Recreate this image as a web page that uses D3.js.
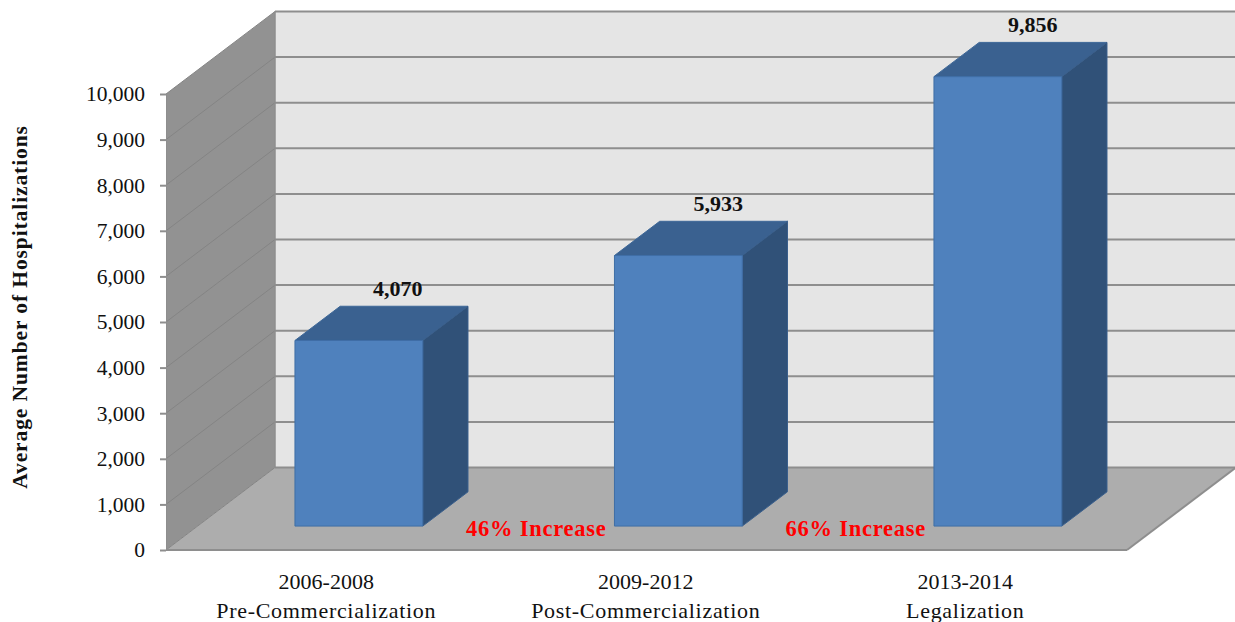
<!DOCTYPE html>
<html>

<head>
  <meta charset="utf-8">
  <title>Average number of hospitalizations</title>
  <style>
    body { margin: 0; background: #fff; }
    text { font-family: "Liberation Serif", serif; fill: #111; }
  </style>
</head>

<body>
  <svg width="1235" height="622"></svg>
  <script src="https://d3js.org/d3.v7.min.js"></script>
  <script>
    // data
    var periods = ["2006-2008", "2009-2012", "2013-2014"];
    var phases = ["Pre-Commercialization", "Post-Commercialization", "Legalization"];
    var hospitalizations = [4070, 5933, 9856];
    var yTicks = [0, 1000, 2000, 3000, 4000, 5000, 6000, 7000, 8000, 9000, 10000];
    var increases = ["46% Increase", "66% Increase"];

    var svg = d3.select("svg");

    var plotLeft = 166, plotRight = 1127;
    var x = d3.scaleBand().domain(periods).range([167.5, 1126]).paddingInner(0.6).paddingOuter(0.3);
    var y = d3.scaleLinear().domain([0, 10000]).range([550, 94]);

    // fake 3d: depth 0 = front edge of the floor, depth 1 = back wall
    var depthX = 109, depthY = -82.5;
    var barFront = 0.29, barBack = 0.705;
    // the value labels sit a little off centre in the original
    var labelNudge = [39, 40, 35];

    function px(v, depth) { return v + depthX * depth; }
    function py(v, depth) { return y(v) + depthY * depth; }
    function poly(points) {
      return points.map(function (p) { return p[0] + "," + p[1]; }).join(" ");
    }

    // back wall, clipped by the window on the right
    svg.append("polygon")
      .attr("points", poly([
        [px(plotLeft, 1), py(10000, 1)], [px(plotRight, 1), py(10000, 1)],
        [px(plotRight, 1), py(0, 1)], [px(plotLeft, 1), py(0, 1)]]))
      .attr("fill", "#e5e5e5");

    // side wall
    svg.append("polygon")
      .attr("points", poly([
        [plotLeft, py(10000, 0)], [px(plotLeft, 1), py(10000, 1)],
        [px(plotLeft, 1), py(0, 1)], [plotLeft, py(0, 0)]]))
      .attr("fill", "#929292");

    // floor
    svg.append("polygon")
      .attr("points", poly([
        [plotLeft, py(0, 0)], [px(plotLeft, 1), py(0, 1)],
        [px(plotRight, 1), py(0, 1)], [plotRight, py(0, 0)]]))
      .attr("fill", "#adadad");

    // gridlines
    svg.append("g").selectAll("line.back")
      .data(yTicks)
      .enter()
      .append("line")
      .attr("x1", px(plotLeft, 1))
      .attr("x2", px(plotRight, 1))
      .attr("y1", function (d) { return py(d, 1); })
      .attr("y2", function (d) { return py(d, 1); })
      .attr("stroke", "#8e8e8e")
      .attr("stroke-width", 2);

    svg.append("g").selectAll("line.side")
      .data(yTicks)
      .enter()
      .append("line")
      .attr("x1", plotLeft)
      .attr("x2", px(plotLeft, 1))
      .attr("y1", function (d) { return py(d, 0); })
      .attr("y2", function (d) { return py(d, 1); })
      .attr("stroke", "#848484")
      .attr("stroke-width", 1);

    svg.append("line")
      .attr("x1", px(plotLeft, 1)).attr("x2", px(plotLeft, 1))
      .attr("y1", py(10000, 1)).attr("y2", py(0, 1))
      .attr("stroke", "#8e8e8e").attr("stroke-width", 1.5);

    svg.append("line")
      .attr("x1", plotRight).attr("x2", px(plotRight, 1))
      .attr("y1", py(0, 0)).attr("y2", py(0, 1))
      .attr("stroke", "#8e8e8e").attr("stroke-width", 2);

    // axes
    var yAxis = svg.append("g")
      .attr("transform", "translate(" + plotLeft + ",0)")
      .call(d3.axisLeft(y).tickValues(yTicks).tickSize(6).tickPadding(15).tickFormat(d3.format(",")));
    yAxis.selectAll("line").attr("stroke", "#8e8e8e").attr("stroke-width", 2);
    yAxis.select(".domain").attr("stroke", "#8e8e8e").attr("stroke-width", 1);
    yAxis.selectAll("text")
      .style("font-family", '"Liberation Serif", serif')
      .style("font-size", "21.5px");

    svg.append("line")
      .attr("x1", plotLeft).attr("x2", plotRight)
      .attr("y1", py(0, 0)).attr("y2", py(0, 0))
      .attr("stroke", "#8e8e8e").attr("stroke-width", 2);

    // bars
    var bars = svg.append("g").selectAll("g")
      .data(hospitalizations)
      .enter()
      .append("g");

    function left(d, i) { return x(periods[i]); }
    function right(d, i) { return x(periods[i]) + x.bandwidth(); }

    // top face
    bars.append("polygon")
      .attr("fill", "#3a6190")
      .attr("stroke", "#3d6797")
      .attr("points", function (d, i) {
        return poly([
          [px(left(d, i), barFront), py(d, barFront)],
          [px(left(d, i), barBack), py(d, barBack)],
          [px(right(d, i), barBack), py(d, barBack)],
          [px(right(d, i), barFront), py(d, barFront)]]);
      });

    // side face
    bars.append("polygon")
      .attr("fill", "#305178")
      .attr("stroke", "#3a5f8c")
      .attr("points", function (d, i) {
        return poly([
          [px(right(d, i), barFront), py(d, barFront)],
          [px(right(d, i), barBack), py(d, barBack)],
          [px(right(d, i), barBack), py(0, barBack)],
          [px(right(d, i), barFront), py(0, barFront)]]);
      });

    // front face
    bars.append("polygon")
      .attr("fill", "#4f81bd")
      .attr("stroke", "#3f6ea6")
      .attr("stroke-width", 1)
      .attr("points", function (d, i) {
        return poly([
          [px(left(d, i), barFront), py(d, barFront)],
          [px(right(d, i), barFront), py(d, barFront)],
          [px(right(d, i), barFront), py(0, barFront)],
          [px(left(d, i), barFront), py(0, barFront)]]);
      });

    // value labels
    bars.append("text")
      .attr("x", function (d, i) { return px(x(periods[i]) + x.bandwidth() / 2, barFront) + labelNudge[i]; })
      .attr("y", function (d) { return py(d, barBack) - 10; })
      .attr("text-anchor", "middle")
      .attr("font-weight", "bold")
      .attr("font-size", 22)
      .text(d3.format(","));

    // category labels
    var cats = svg.append("g").selectAll("text")
      .data(periods)
      .enter()
      .append("text")
      .attr("text-anchor", "middle")
      .attr("font-size", 22);
    cats.append("tspan")
      .attr("x", function (d) { return x(d) + x.bandwidth() / 2 - 1; })
      .attr("y", 589)
      .text(function (d) { return d; });
    cats.append("tspan")
      .attr("x", function (d) { return x(d) + x.bandwidth() / 2 - 1; })
      .attr("y", 618)
      .attr("letter-spacing", 0.7)
      .text(function (d, i) { return phases[i]; });

    // increase notes, ending just left of the next bar
    svg.append("g").selectAll("text")
      .data(increases)
      .enter()
      .append("text")
      .attr("x", function (d, i) { return px(x(periods[i + 1]), barFront) - 8; })
      .attr("y", 536)
      .attr("text-anchor", "end")
      .attr("font-weight", "bold")
      .attr("font-size", 22.5)
      .attr("letter-spacing", 0.75)
      .style("fill", "#ff0000")
      .text(function (d) { return d; });

    // y title
    svg.append("text")
      .attr("transform", "translate(27,307) rotate(-90)")
      .attr("text-anchor", "middle")
      .attr("font-weight", "bold")
      .attr("font-size", 21.5)
      .attr("letter-spacing", 0.9)
      .text("Average Number of Hospitalizations");
  </script>
</body>

</html>
